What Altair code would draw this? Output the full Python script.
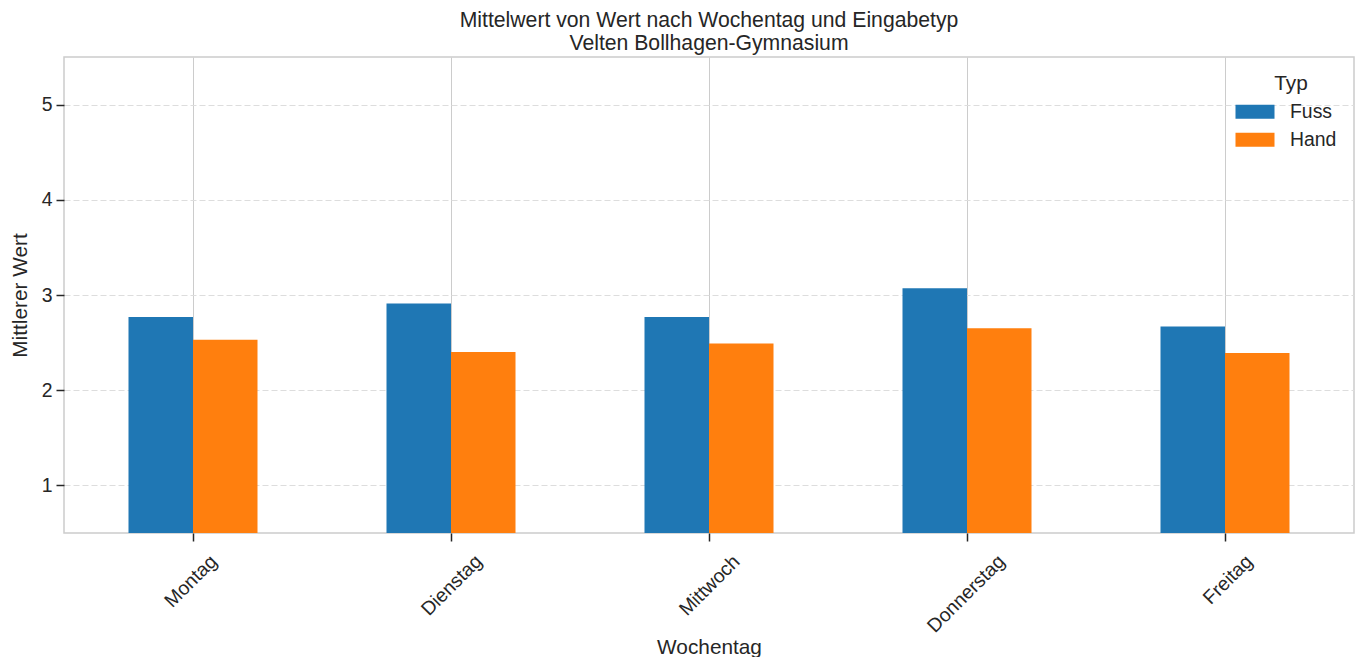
import pandas as pd
import altair as alt

# ── data ───────────────────────────────────────────────────────────────────────

DAYS = ['Montag', 'Dienstag', 'Mittwoch', 'Donnerstag', 'Freitag']
FUSS = [2.77, 2.91, 2.77, 3.07, 2.67]
HAND = [2.53, 2.40, 2.49, 2.65, 2.39]
TYPES = ['Fuss', 'Hand']
COLORS = ['#1f77b4', '#ff7f0e']

FONT = 'Liberation Sans'
TEXT = '#262626'
TICK_FS = 19.4
TITLE_FS = 20.8


def build_frame() -> pd.DataFrame:
    rows = []
    for day, f, h in zip(DAYS, FUSS, HAND):
        rows.append({'Wochentag': day, 'Typ': 'Fuss', 'Wert': f})
        rows.append({'Wochentag': day, 'Typ': 'Hand', 'Wert': h})
    return pd.DataFrame(rows)


df = build_frame()

# wide rectangle for legend swatches
SWATCH = 'M-1.95,-0.7L1.95,-0.7L1.95,0.7L-1.95,0.7Z'

bars = alt.Chart(df).mark_bar(clip=True).encode(
    x=alt.X(
        'Wochentag:N',
        sort=DAYS,
        scale=alt.Scale(paddingInner=0.5, paddingOuter=0.25),
        axis=alt.Axis(
            title='Wochentag',
            labelAngle=-45,
            labelAlign='right',
            labelBaseline='middle',
            labelPadding=17,
            # centre rotated labels under their tick (approx. by text length)
            labelOffset=alt.ExprRef('length(datum.label) * 3.47'),
            bandPosition=0.5,
            grid=True,
            gridColor='#cccccc',
            gridWidth=1,
            domain=False,
            ticks=True,
            tickSize=8,
            tickColor=TEXT,
            tickWidth=1.5,
            titleY=114,
            titleBaseline='middle',
        ),
    ),
    xOffset=alt.XOffset('Typ:N', sort=TYPES),
    y=alt.Y(
        'Wert:Q',
        scale=alt.Scale(domain=[0.5, 5.5], nice=False, zero=False),
        axis=alt.Axis(
            title='Mittlerer Wert',
            values=[1, 2, 3, 4, 5],
            format='d',
            grid=True,
            gridColor='#dddddd',
            gridDash=[6, 3],
            gridWidth=1,
            domain=False,
            tickSize=8,
            tickColor=TEXT,
            tickWidth=1.5,
            labelPadding=4,
            titleX=-44,
            titleBaseline='middle',
        ),
    ),
    color=alt.Color(
        'Typ:N',
        sort=TYPES,
        scale=alt.Scale(domain=TYPES, range=COLORS),
        legend=alt.Legend(
            title='Typ',
            orient='none',
            legendX=1181,
            legendY=17,
            padding=0,
            symbolType=SWATCH,
            symbolSize=400,
            symbolStrokeWidth=0,
            symbolOpacity=1,
            labelOffset=25,
            rowPadding=8,
            titlePadding=7,
            titleAnchor='middle',
            labelFontSize=TICK_FS,
            titleFontSize=TITLE_FS,
            titleFontWeight='normal',
            labelColor=TEXT,
            titleColor=TEXT,
            labelFont=FONT,
            titleFont=FONT,
        ),
    ),
)

chart = (
    bars.properties(
        width=1290,
        height=476,
        padding={'left': 56, 'top': 49, 'right': 4, 'bottom': 124},
        autosize=alt.AutoSizeParams(type='none'),
        title=alt.TitleParams(
            text=['Mittelwert von Wert nach Wochentag und Eingabetyp',
                  'Velten Bollhagen-Gymnasium'],
            fontSize=21.2,
            fontWeight='normal',
            font=FONT,
            color=TEXT,
            anchor='middle',
            lineHeight=23,
            offset=3,
        ),
    )
    .configure_view(stroke='#cccccc', strokeWidth=1.5)
    .configure_axis(
        labelFont=FONT,
        titleFont=FONT,
        labelFontSize=TICK_FS,
        titleFontSize=TITLE_FS,
        titleFontWeight='normal',
        labelColor=TEXT,
        titleColor=TEXT,
    )
)

chart.save('out.html', embed_options={'renderer': 'svg', 'actions': False})
